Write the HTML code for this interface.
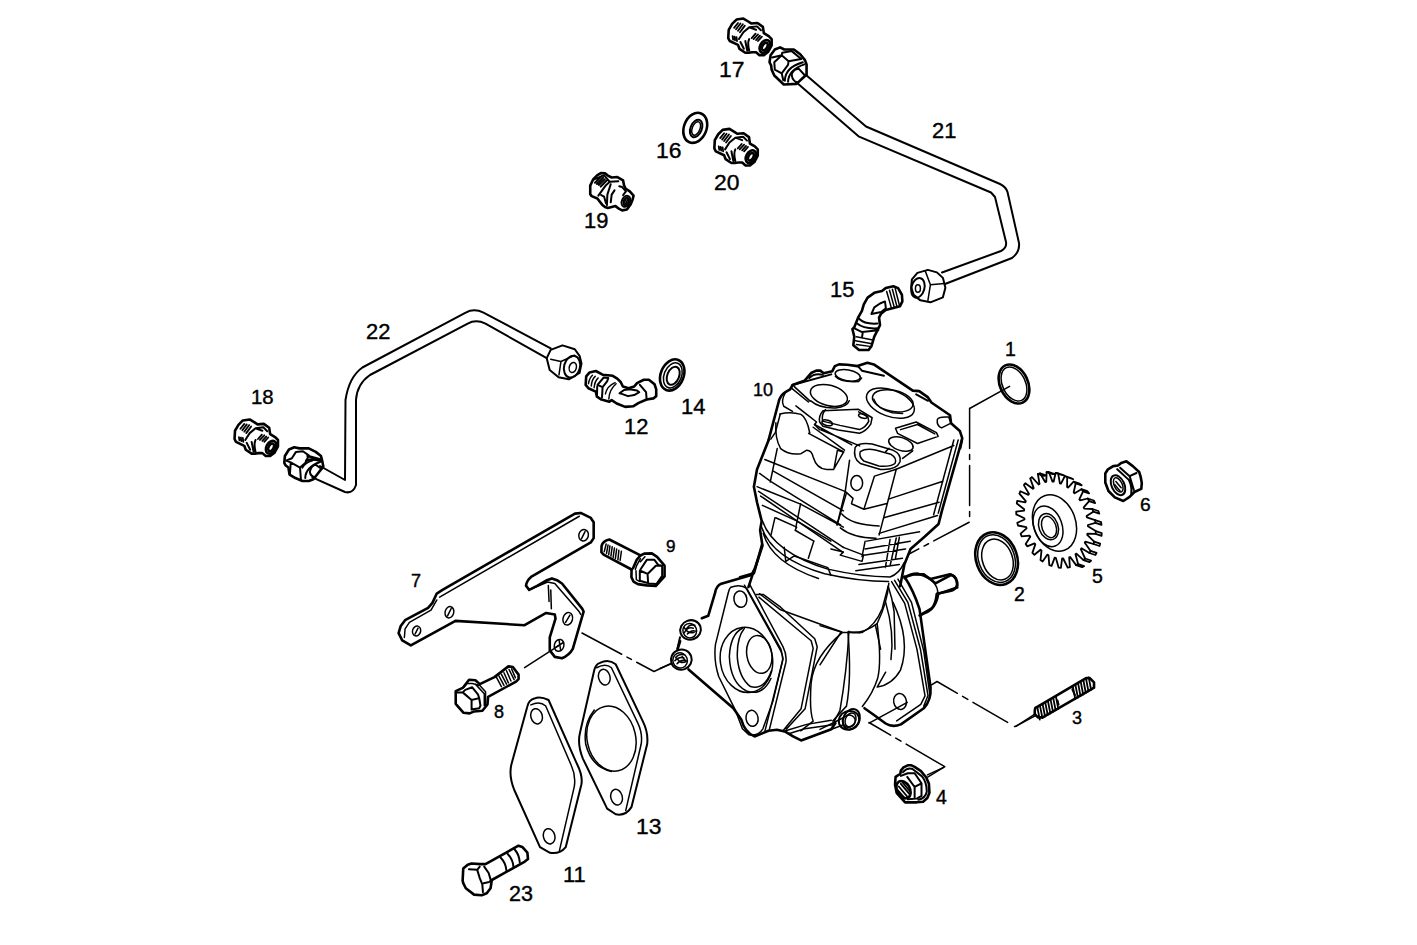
<!DOCTYPE html>
<html><head><meta charset="utf-8"><style>
html,body{margin:0;padding:0;background:#fff;width:1417px;height:945px;overflow:hidden}
svg{position:absolute;left:0;top:0}
svg *{vector-effect:non-scaling-stroke}
path,ellipse,line,polyline,polygon,circle,rect{fill:none;stroke:#000;stroke-width:2;stroke-linejoin:round;stroke-linecap:round}
.t{stroke-width:1.5}
.k{stroke-width:2.6}
.w{fill:#fff}
.g{stroke-width:1.8}
.d{stroke-width:1.3;stroke-dasharray:40 8 6 8}
text{font-family:"Liberation Sans",sans-serif;fill:#000;stroke:#000;stroke-width:0.4px}
</style></head><body>
<svg width="1417" height="945" viewBox="0 0 1417 945">
<g id="labels">
<text x="719.0" y="77.0" font-size="22.9">17</text>
<text x="932.0" y="138.0" font-size="21.9">21</text>
<text x="656" y="157.5" font-size="22.9">16</text>
<text x="714.0" y="190.0" font-size="22.9">20</text>
<text x="584.0" y="228.0" font-size="21.9">19</text>
<text x="830.0" y="297.0" font-size="21.9">15</text>
<text x="366.0" y="339.0" font-size="21.9">22</text>
<text x="251.0" y="404.0" font-size="20.4">18</text>
<text x="624.0" y="434.0" font-size="21.9">12</text>
<text x="681.0" y="414.0" font-size="21.9">14</text>
<text x="753.0" y="396.0" font-size="18.0">10</text>
<text x="1005.0" y="356.0" font-size="19.5">1</text>
<text x="666.0" y="552.0" font-size="17.1">9</text>
<text x="411.0" y="587.0" font-size="18.0">7</text>
<text x="494.0" y="718.0" font-size="18.0">8</text>
<text x="1014.0" y="601.0" font-size="19.4">2</text>
<text x="1092" y="583" font-size="19.5">5</text>
<text x="1140.0" y="511.4" font-size="19.2">6</text>
<text x="1072.0" y="724.0" font-size="18.0">3</text>
<text x="936.0" y="804.0" font-size="19.5">4</text>
<text x="636.0" y="834.0" font-size="22.9">13</text>
<text x="563.0" y="882.0" font-size="21.9">11</text>
<text x="509.0" y="901.0" font-size="21.5">23</text>
</g>
<g id="pipe21">
<path d="M806,75 L866,126.5 L1000,184 Q1006,187 1007.5,192 L1019,243 Q1020,252 1012,258 L945,284"/>
<path d="M796,82 L858.5,136.3 L991,192.5 L995,197 L1006,242 Q1007,248 1001,251 L942,272.5"/>
</g>
<g id="pipe22">
<path d="M550.7,348.3 L483.5,312.7 Q474,308 465.7,312.7 L362.4,367.5 Q349,377 345.5,400 L345,480 L320,466"/>
<path d="M546.7,358.2 L485.5,323.6 Q476,319 467.7,323.6 L370,375 Q357,384 356,400 L356,485 Q353,494 345,492 L312.4,477.4"/>
</g>
<g id="rings">
<ellipse cx="1014" cy="384" rx="14" ry="20.5" transform="rotate(-25 1014 384)" class="k"/>
<ellipse cx="1014" cy="384" rx="11.5" ry="18" transform="rotate(-25 1014 384)" class="t"/>
<ellipse cx="996.6" cy="558.6" rx="20.5" ry="27" transform="rotate(-20 996.6 558.6)" class="k"/>
<ellipse cx="996.6" cy="558.6" rx="18" ry="24.5" transform="rotate(-20 996.6 558.6)" class="t"/>
<ellipse cx="997.5" cy="559.5" rx="15" ry="21" transform="rotate(-20 997.5 559.5)" class="t"/>
</g>
<g transform="translate(700,0) scale(0.141143)">

</g>
<g transform="translate(760,40) scale(0.05291)">
<path class="k" d="M180,420 L200,290 L280,180 L380,140 L460,180 L640,180 L760,270 L850,380 L880,460 L880,660 L850,680 L690,830 L450,840 L270,670 L220,560 L210,480 Z"/>
<path d="M230,330 L410,290 L540,400 L780,360 M410,290 L420,240 L600,210 L780,360 M270,420 L410,290 M540,400 L530,470 L410,630 L280,560 L270,420 M410,630 L440,760"/>
<path d="M470,770 Q470,520 810,420 M530,790 Q540,560 840,460"/>
<path d="M600,640 Q650,530 740,550 L850,670 M600,640 Q600,740 660,780 L700,800"/>
</g>
<g transform="translate(580,100) scale(0.148148)">
<!-- washer 16 -->
<ellipse cx="778" cy="188" rx="76" ry="105" transform="rotate(22 778 188)" class="k"/>
<ellipse cx="784" cy="192" rx="38" ry="62" transform="rotate(22 784 192)"/>
<ellipse cx="784" cy="192" rx="26" ry="48" transform="rotate(22 784 192)" class="t"/>
</g>
<g transform="translate(585,168) scale(0.047619)">
<path class="k" d="M110,550 L110,370 L170,240 L260,150 L340,105 L420,110 L480,160 L560,200 L680,190 L800,260 L820,360 L850,430 L940,490 L1020,580 L1000,660 L960,760 L880,870 L780,890 L720,860 L640,800 L480,840 L420,820 L360,770 L260,640 L140,590 Z"/>
<path d="M210,310 L350,170 M250,335 L380,205 M290,355 L415,235 M330,390 L455,262 M170,250 L400,150 L520,290"/>
<path d="M280,580 L440,360 L520,290 L700,280 M540,340 L470,560 L460,780 M340,570 L400,600 L440,740"/>
<path d="M620,470 L560,560 L540,720 M720,385 L780,400 L860,490 L800,570"/>
<ellipse cx="860" cy="700" rx="85" ry="120" transform="rotate(25 860 700)"/>
<ellipse cx="862" cy="702" rx="50" ry="80" transform="rotate(25 862 702)"/>
<path class="t" d="M820,740 L880,620 M850,760 L900,660"/>
</g><g transform="translate(230,300) scale(0.249813)">
</g>
<g transform="translate(440,290) scale(0.197628)">
<!-- nut on pipe22 right -->
<path d="M540,345 L560,303 L620,280 L682,300 L707,335 L716,372 L706,420 L652,452 L600,442 L555,405 Z"/>
<path class="t" d="M560,350 L612,362 L682,330 M612,362 L602,430"/>
<ellipse cx="668" cy="388" rx="40" ry="56" transform="rotate(15 668 388)"/>
<ellipse cx="672" cy="392" rx="18" ry="26" transform="rotate(15 672 392)" class="t"/>
<!-- washer 14 -->
<ellipse cx="1175" cy="430" rx="58" ry="82" transform="rotate(22 1175 430)" class="k"/>
<ellipse cx="1178" cy="432" rx="44" ry="66" transform="rotate(22 1178 432)" class="t"/>
<ellipse cx="1180" cy="434" rx="30" ry="48" transform="rotate(22 1180 434)"/>
</g>
<g transform="translate(800,100) scale(0.249813)">
<!-- nut on pipe21 bottom -->
<path d="M448,718 L470,692 L512,680 L548,690 L572,712 L582,752 L572,790 L522,810 L482,802 L455,780 L445,750 Z"/>
<path class="t" d="M502,686 L522,740 L512,802 M522,740 L578,735"/>
<ellipse cx="472" cy="752" rx="26" ry="40" transform="rotate(15 472 752)"/>
<ellipse cx="472" cy="755" rx="10" ry="15" class="t"/>
</g>
<g transform="translate(840,270) scale(0.095238)">
<path class="k" d="M150,600 L190,500 L230,430 L250,360 L290,290 L360,240 L440,220 L480,190 L560,170 L610,190 L650,260 L655,330 L630,380 L560,400 L480,420 L430,460 L410,500 L420,580 L390,640 L360,700 L330,800 L300,840 L200,840 L140,790 L150,700 L130,620 Z"/>
<path class="t" d="M490,225 L540,400 M520,212 L570,392 M550,202 L598,384 M580,195 L625,375"/>
<path d="M330,462 L360,392 L420,352 L472,330 L482,402 L432,442 Z"/>
<path d="M200,512 Q260,572 392,562 M180,562 Q250,622 402,612 M152,612 L232,652 L402,632 M240,652 L232,700"/>
<path class="t" d="M172,702 L332,732 M162,742 L322,772 M172,782 L312,802"/>
</g>
<g transform="translate(580,360) scale(0.056465)">
<path class="k" d="M100,440 L110,290 L170,220 L280,195 L400,260 L580,280 L660,330 L720,390 L760,470 L860,500 L960,470 L1010,410 L1130,350 L1220,350 L1320,430 L1350,520 L1350,640 L1300,680 L1180,700 L1040,760 L940,820 L800,830 L650,770 L560,710 L520,740 L380,700 L300,650 L280,560 L150,500 Z"/>
<path class="t" d="M150,420 Q165,320 220,270 M200,460 Q210,340 270,290 M250,490 Q262,370 320,320"/>
<path d="M310,440 L420,310 L500,320 L480,380 L400,480 Z M305,470 L300,640 M400,480 L390,660"/>
<path class="t" d="M450,600 Q480,460 620,400 M510,690 Q520,520 640,420"/>
<path d="M700,590 L780,530 L880,520 L1010,540 L1050,570 L960,620 L850,640 L740,600 Z"/>
<path d="M1060,440 L1170,570 L1180,700"/>
</g><g transform="translate(275,435) scale(0.058207)">
<path class="k" d="M160,480 L170,360 L240,250 L330,210 L420,230 L580,230 L700,290 L790,360 L810,440 L830,540 L800,580 L660,760 L580,790 L470,790 L350,740 L250,680 L230,560 L180,520 Z"/>
<path d="M190,440 L290,400 L360,290 L480,280 L580,350 L520,480 L430,560 L270,470 Z M270,480 L255,680 M430,560 L445,760"/>
<path class="k" d="M560,360 L780,420 M540,440 Q600,400 790,440"/>
<path d="M470,560 Q520,470 640,440 M520,740 Q520,560 780,460"/>
<path d="M600,630 Q620,520 700,510 L800,585 M600,640 Q610,705 690,730"/>
</g><g transform="translate(708,124) scale(0.048780)"><g id="fit20">
<path class="k" d="M130,500 L140,330 L210,210 L300,120 L440,100 L540,160 L600,200 L730,190 L840,270 L860,400 L960,460 L1020,520 L1020,650 L950,780 L860,850 L770,850 L700,790 L620,790 L550,800 L480,800 L360,720 L330,640 L160,560 Z"/>
<path class="g" d="M250,290 L330,190 M290,320 L380,200 M330,350 L430,215 M370,380 L470,245 M220,460 L230,530 M260,470 L270,545 M300,480 L310,560"/>
<path d="M350,520 L440,380 L560,280 L720,260 L800,340 M380,580 L450,720 M480,560 L520,760 M560,280 L700,330 M560,520 Q520,600 560,760"/>
<path class="g" d="M610,500 L690,410 M650,520 L740,425 M700,540 L780,450 M740,560 L820,470"/>
<ellipse cx="880" cy="670" rx="95" ry="140" transform="rotate(30 880 670)" class="k"/>
<ellipse cx="880" cy="672" rx="50" ry="85" transform="rotate(30 880 672)" class="k"/>
</g><use href="#fit20" transform="translate(284.9,-2261.2)"/><use href="#fit20" transform="translate(-9835.9,5957.3)"/></g><g transform="translate(740,350) scale(0.169377)">
<path class="k" d="M169,531 L232,292 Q245,262 268,248 L296,232 L310,207 L380,182 L420,136 L450,122 L474,122 L494,137 L545,125 L560,95 L585,85 L634,87 L694,95 L752,75 L790,85 L1020,240 L1058,243 L1108,278 L1130,310 L1240,385 L1246,432 L1298,478 L1312,520 L1300,580"/>
<path d="M309,207 L539,144 M409,165 Q440,135 489,147 M700,100 L720,122 L850,152 M1040,262 L1110,300"/>
<ellipse cx="636" cy="150" rx="75" ry="32" transform="rotate(10 636 150)" class="t"/>
<path class="t" d="M563,155 Q590,192 700,186 L718,165"/>
<ellipse cx="525" cy="268" rx="112" ry="60" transform="rotate(15 525 268)" class="t"/>
<path class="t" d="M418,300 Q470,345 565,342 Q632,336 645,300"/>
<ellipse cx="902" cy="300" rx="122" ry="62" transform="rotate(12 902 300)" class="t"/>
<ellipse cx="888" cy="314" rx="148" ry="78" transform="rotate(20 888 314)" class="t"/><path class="t" d="M790,290 Q810,350 900,370 L960,375"/>
<path class="t" d="M490,358 L700,350 L780,400 L772,438 Q745,480 705,492 L580,472 L490,450 L470,425 Q462,390 490,358 Z"/>
<path class="t" d="M505,352 Q480,380 488,420 L590,445 L705,470 Q745,455 760,420 L755,395 L700,365"/>
<ellipse cx="515" cy="430" rx="32" ry="16" transform="rotate(15 515 430)" class="t"/>
<ellipse cx="725" cy="390" rx="26" ry="12" transform="rotate(15 725 390)" class="t"/>
<path class="t" d="M304,225 L404,307 M319,215 L414,302 M268,252 Q240,300 258,332 L310,362 M330,330 L400,385 L452,425 M452,425 L440,440 L470,470"/>
<path class="t" d="M235,378 Q300,362 360,380 Q395,400 412,490 M212,430 Q205,520 240,582 Q290,622 360,612 L392,592 Q422,590 432,632 Q452,702 512,706 L552,706 L612,602 L575,592 L555,700"/>

<path class="t" d="M405,492 L612,602 M440,440 L660,560 M237,381 L209,486 L182,526 M432,456 L617,591 M477,471 L707,566"/>
<path class="t" d="M680,575 Q700,545 780,555 L900,590 Q955,615 945,660 Q925,710 830,705 L710,670 Q665,640 680,575 Z"/>
<path class="t" d="M710,600 Q740,580 800,590 L890,615 Q930,640 915,670 Q890,690 820,685 L730,655 Q700,630 710,600 Z"/>


<ellipse cx="950" cy="555" rx="75" ry="38" transform="rotate(18 950 555)" class="t"/>
<path class="t" d="M1020,595 L960,640 M880,580 L860,600"/>
<path class="t" d="M918,462 L1040,425 L1160,488 L1170,510 L1048,552 L930,492 Z M948,470 L1048,440 L1150,495"/>
<path class="t" d="M1165,410 Q1172,392 1232,396 L1246,432 L1190,460 Q1160,450 1165,410"/>



</g>
<g transform="translate(750,440) scale(0.155594)">
<path class="k" d="M120,0 L45,190 L25,300 L45,400 L75,520 L65,580 L80,680 L40,800 L15,870 L-10,945"/>
<path class="k" d="M1362,0 L1232,460 L1212,540 L1122,622 L1032,700 L992,800 L965,940"/>
<path class="t" d="M175,55 L130,270 M95,125 L610,330 M150,200 L600,455 M62,215 L135,268 L582,545 M45,300 L325,412 L600,560"/>
<path class="t" d="M55,330 L600,690 M68,360 L598,722"/>
<path class="t" d="M80,420 L300,520 L520,650 M325,410 L295,560 M410,650 L375,760 M160,500 L135,610 M620,340 L560,545"/>
<path class="t" d="M80,520 Q150,720 500,830 Q720,880 900,880 Q960,860 990,790 M75,560 Q140,760 480,860 Q700,910 890,910 M85,600 Q140,790 440,890"/>
<path class="t" d="M165,500 L300,560 L290,580 L410,650 M220,690 L230,780 L285,745 L500,820 L520,870 M520,700 L600,720 L580,740 L720,780 L730,740 L600,690"/>
<path class="t" d="M640,130 L612,330 L662,375 L652,410 L732,445 L800,232 L940,188 M940,188 L830,610 M732,445 L880,408 M612,330 L560,545"/>
<ellipse cx="686" cy="276" rx="38" ry="48" class="t"/>
<path class="t" d="M940,188 L1310,35 M890,380 L1240,265 M860,500 L1215,400 M830,600 L1205,485 M1310,0 L1180,480 M1338,0 L1210,470"/>
<path class="t" d="M590,475 Q650,545 830,552 M580,565 Q660,630 810,632"/>
<path class="t" d="M750,650 L1090,590 M740,700 L1030,650 M730,740 L1000,700 M700,800 L980,760 M680,840 L960,800 M740,650 L720,750 M900,640 L870,820 M940,630 L900,810 M960,625 L935,760"/>

</g>
<g transform="translate(740,490) scale(0.169377)">
<path class="k" d="M130,322 L82,492 L0,515"/>
<path class="k" d="M972,520 Q1000,495 1050,494 L1085,505 L1125,525 L1240,497 Q1282,510 1282,560 Q1272,592 1240,596 L1162,612 Q1155,680 1130,700 L1068,736"/>
<path class="t" d="M640,840 L720,842 Q800,800 840,700 L875,568"/>
<path class="t" d="M875,568 Q900,640 910,720 L915,940 M800,800 L830,940"/>
</g>
<g transform="translate(660,570) scale(0.201005)">
<path class="k" d="M468,0 L455,25 L305,68 Q280,80 275,110 L240,228 L208,240"/>
<path class="k" d="M100,355 L88,392"/>
<path class="k" d="M142,495 L365,688 L405,745 Q420,805 470,828 L540,800 L582,795 L625,805 L662,828 L702,848 L852,792 L872,762"/>
<path class="t" d="M352,86 Q400,68 432,92 L602,395 L612,442 L562,652 L512,790 Q490,826 442,820 L410,790 L376,700 L292,530 Q266,450 276,370 L340,112 Q345,92 352,86 Z"/>
<path class="t" d="M480,122 L515,122 L600,185 L770,342 L782,382 L722,690 L628,792 M492,135 L752,352 L762,390 L702,690 L612,800"/>
<ellipse cx="430" cy="447" rx="130" ry="163" transform="rotate(-8 430 447)" class="t"/>
<path class="t" d="M410,290 Q350,320 345,430 Q350,560 430,602 Q510,630 552,540"/>
<path class="t" d="M420,290 Q380,340 385,440 Q395,540 450,580 Q520,600 555,500"/>
<ellipse cx="494" cy="420" rx="62" ry="95" transform="rotate(-10 494 420)" class="t"/>
<ellipse cx="400" cy="145" rx="32" ry="41" transform="rotate(-10 400 145)" class="t"/>
<ellipse cx="458" cy="738" rx="30" ry="40" transform="rotate(-10 458 738)" class="t"/>
<ellipse cx="152" cy="298" rx="52" ry="48" transform="rotate(-20 152 298)"/>
<ellipse cx="148" cy="302" rx="34" ry="36" transform="rotate(-20 148 302)" class="t"/>
<ellipse cx="106" cy="446" rx="52" ry="50" transform="rotate(-20 106 446)"/>
<ellipse cx="100" cy="450" rx="36" ry="38" transform="rotate(-20 100 450)" class="t"/>
<path class="t" d="M120,285 Q140,320 170,310 M85,440 Q100,470 130,455 L110,430"/>
<path class="t" d="M0,490 L58,466"/>
<path class="t" d="M495,118 L600,198 L908,310 L995,312 M908,310 Q765,430 752,560 Q742,700 762,752 L700,800 M940,305 Q930,500 895,700 L862,762"/>
<path class="t" d="M625,800 L730,768 L852,748 M640,815 L720,790 L860,770"/>
<ellipse cx="940" cy="748" rx="52" ry="46" transform="rotate(-20 940 748)"/>
<ellipse cx="940" cy="752" rx="32" ry="30" transform="rotate(-20 940 752)" class="t"/>
</g>
<g transform="translate(640,560) scale(0.148148)">
<path class="t" d="M705,170 L938,592 Q968,640 962,680 L842,1160 M742,168 L965,585 Q992,640 985,690 L872,1150"/>
<path d="M270,522 L252,602"/>
<path class="t" d="M310,470 Q330,430 370,440 M300,490 Q320,450 360,460 M320,500 Q345,470 375,480 M240,660 Q260,630 300,640 M235,680 Q260,650 295,660 M250,700 Q275,670 310,680"/>
</g><g transform="translate(820,560) scale(0.211775)">
<path class="k" d="M398,78 Q440,140 470,232 L522,600 Q526,662 490,700 L382,776 Q342,792 310,772 L255,732 L210,700"/>
<path class="t" d="M338,102 L400,205 L458,422 L496,642 L476,682 L362,760 M352,96 L415,200 L474,420 L510,640 L490,690 M368,90 L432,200 L490,430 L518,630"/>
<path class="k" d="M400,80 L440,68 L490,68 L530,98 L545,110 L620,70 Q652,80 648,130 L558,160 Q548,232 492,252 L470,262"/>
<path class="t" d="M530,98 Q560,130 555,160"/>
<path class="t" d="M0,310 L100,340 L0,495 M132,340 Q200,352 270,300 Q318,200 325,110 M132,340 Q150,560 125,690 L60,760"/>
<path class="t" d="M270,300 Q292,480 272,560 Q250,630 200,692 M310,200 Q352,340 335,470 M345,200 Q430,380 380,520 Q340,590 270,600 L310,530"/>
<ellipse cx="378" cy="668" rx="30" ry="38" transform="rotate(-10 378 668)" class="t"/>
<path class="t" d="M232,770 L412,672"/>
<ellipse cx="148" cy="752" rx="38" ry="50" transform="rotate(25 148 752)"/>
<ellipse cx="144" cy="755" rx="24" ry="34" transform="rotate(25 144 755)" class="t"/>
<path class="t" d="M0,800 L110,745 M0,820 L105,780"/>
</g>
<g transform="translate(395,505) scale(0.143968)">
<path class="k" d="M290,615 L330,590 L1250,60 L1290,55 L1360,90 L1380,120 L1380,230 L1360,260 L1300,295 L945,500 Q915,525 910,560 L932,590 L990,560 L1050,525 L1090,510 L1130,525 L1160,545 L1300,720 L1310,740 L1235,1000 Q1210,1045 1160,1065 L1110,1055 L1075,1010 L1075,920 L1115,790 L1110,760 L1050,750 L900,835 L420,805 L110,975 L50,940 L25,890 L40,840 L70,800 L230,715 L260,680 Z"/>
<path class="t" d="M310,640 L1280,78 M65,920 L70,860 L100,815 L250,730 L290,660 M940,585 L1060,535 L1110,545 L1280,742 L1290,760"/>
<ellipse cx="378" cy="745" rx="30" ry="40" transform="rotate(15 378 745)" class="t"/>
<ellipse cx="150" cy="875" rx="28" ry="35" transform="rotate(15 150 875)" class="t"/>
<ellipse cx="1310" cy="210" rx="33" ry="40" transform="rotate(15 1310 210)" class="t"/>
<ellipse cx="1200" cy="790" rx="33" ry="44" transform="rotate(15 1200 790)" class="t"/>
<ellipse cx="1140" cy="975" rx="33" ry="42" transform="rotate(15 1140 975)" class="t"/>
<path class="t" d="M365,770 L390,720 M140,895 L160,855 M1295,235 L1320,185 M1185,815 L1215,765 M1120,985 L1170,955 M1140,940 L1150,1005"/>
<path class="t" d="M1065,560 L1070,670 M1082,590 L1086,720"/>
<path class="t" d="M1140,975 L900,1130"/>
</g>
<g transform="translate(596,530) scale(0.063492)">
<!-- bolt 9 -->
<path class="k" d="M700,400 L210,150 Q110,170 88,250 L85,350 L120,388 L560,622"/>
<path class="t" d="M160,220 L130,340 M190,235 L165,370 M220,250 L200,390 M255,265 L235,410 M290,285 L270,430 M325,300 L305,450 M360,320 L345,470 M400,335 L380,480"/>
<path class="k" d="M560,622 L558,742 L590,812 L660,852 L800,872 L940,882 L1080,732 L1080,562 L962,422 L880,368 L760,372 L700,402 L640,472 L585,600"/>
<path class="t" d="M630,642 L635,782 L690,812 M700,452 L640,560 L620,620 M770,420 L700,500"/>
<path d="M700,622 L800,470 L920,470 L980,550 L1042,562 L1042,722 L952,852 L822,842 L812,692 L700,642 Z M812,692 L942,562 L1042,562 M690,640 L690,800 L800,830"/>
</g>
<g transform="translate(440,650) scale(0.285714)">
<!-- gasket 11 -->
<path d="M330,170 Q350,160 380,175 L480,400 Q500,440 495,470 L440,690 Q420,715 385,710 L350,690 L260,490 Q240,440 250,400 L305,200 Q310,175 330,170 Z"/>
<path class="t" d="M318,192 Q350,178 370,196 L460,405 Q476,440 470,478 L418,702"/>
<ellipse cx="338" cy="232" rx="20" ry="27" transform="rotate(-15 338 232)" class="t"/>
<ellipse cx="382" cy="652" rx="20" ry="27" transform="rotate(-15 382 652)" class="t"/>
<!-- gasket 13 -->
<path d="M560,45 Q590,30 615,50 L710,250 Q730,290 725,330 L670,550 Q650,582 615,575 L585,555 L500,380 Q480,330 490,290 L540,70 Q545,50 560,45 Z"/>
<path class="t" d="M548,62 Q580,45 600,62 L692,255 Q710,292 704,330 L650,562"/>
<ellipse cx="575" cy="95" rx="20" ry="28" transform="rotate(-15 575 95)" class="t"/>
<ellipse cx="618" cy="515" rx="20" ry="28" transform="rotate(-15 618 515)" class="t"/>
<ellipse cx="600" cy="310" rx="85" ry="115" transform="rotate(-12 600 310)" class="t"/>
<path class="t" d="M540,210 Q500,260 510,330 Q530,410 600,425"/>
</g>
<g transform="translate(880,640) scale(0.249813)">
<path class="t" d="M545,345 L620,297"/>
<path class="t" d="M190,540 L255,510"/>
</g>
<g transform="translate(1100,455) scale(0.05291)">
<path class="k" d="M100,520 L100,350 L150,270 L250,210 L340,200 L400,150 L500,120 L620,210 L740,320 L770,420 L790,530 L780,640 L650,700 L560,790 L440,870 L280,800 L160,680 Z"/>
<path d="M380,240 L560,400 L690,340 M560,400 L640,660 M325,268 L545,470 Q610,600 590,740"/>
<ellipse cx="340" cy="570" rx="120" ry="200" transform="rotate(-25 340 570)"/>
<ellipse cx="345" cy="565" rx="75" ry="145" transform="rotate(-25 345 565)" class="t"/>
<path class="t" d="M300,500 L400,620 M280,560 L380,680"/>
</g>
<g id="leaders">
<path class="t" d="M1009.6,386.3 L969.6,408.5"/>
<path class="t" d="M969.6,408.5 L969.6,522 L909,554" stroke-dasharray="40 6 5 6"/>
<path class="t" d="M582,633 L654,671.5 L672,663" stroke-dasharray="45 6 5 6"/>
<path class="t" d="M931.5,684.8 L937,681.5 L1015,726.7 L1036,715.3" stroke-dasharray="30 6 6 6 40 8 100"/>
<path class="t" d="M869,722.5 L944.8,766.7 L927.7,777.2" stroke-dasharray="25 6 6 6 100"/>
</g>
<g transform="translate(450,660) scale(0.063492)">
<path class="k" d="M90,490 L200,440 L300,310 L400,320 L470,380 L700,270 L920,100 L990,110 L1080,230 L1080,300 L1040,340 L600,580 L590,700 L510,800 L380,810 L310,840 L210,830 L90,690 Z"/>
<path d="M100,510 L200,510 L340,630 L460,600 L480,720 L460,760 L340,780 M340,630 L340,780 M200,510 L240,470 L350,430 L440,540 L460,600"/>
<path class="t" d="M220,430 L270,370 L350,370 L470,400 L560,500 L560,720 M400,380 L540,530 L540,720"/>
<path class="t" d="M730,270 L810,420 M770,250 L850,400 M810,225 L890,380 M850,200 L920,360 M890,170 L960,330 M930,150 L1010,310 M970,140 L1030,280"/>
</g><g transform="translate(1030,675) scale(0.05291)">
<path class="k" d="M90,680 L100,620 L160,590 L210,560 L1060,60 L1130,60 L1210,140 L1210,240 L1140,280 L240,800 L150,800 L90,740 Z"/>
<path class="g" d="M140,616 L185,843 M190,587 L235,814 M240,557 L285,785 M290,528 L335,756 M340,499 L385,727 M390,469 L435,698 M440,440 L485,669 M490,410 L535,641 M810,222 L855,456 M860,193 L905,427 M910,163 L955,398 M960,134 L1005,369 M1010,104 L1055,340 M1060,75 L1105,311 M1110,46 L1155,282 "/>
<path d="M520,480 L540,560 M800,270 L850,380"/>
</g><g transform="translate(885,760) scale(0.05291)">
<path class="k" d="M190,470 L200,320 L290,260 L300,200 L350,140 L430,100 L500,100 L560,130 L680,210 L780,330 L830,450 L840,620 L800,720 L720,790 L600,800 L380,800 L220,620 Z"/>
<path d="M340,230 Q420,140 520,170 L700,310 Q790,420 790,600 Q760,730 630,750"/>
<path d="M300,300 L430,250 L560,250 L690,440 L690,680 L600,730 L430,740 M560,510 L690,440 M560,510 L420,320 M560,510 L560,730"/>
<ellipse cx="350" cy="560" rx="120" ry="175" transform="rotate(-30 350 560)" class="k"/>
<path class="g" d="M260,500 L420,690 M300,450 L460,640 M240,570 L380,730 M330,420 L470,590"/>
</g><g transform="translate(455,840) scale(0.063492)">
<path class="k" d="M120,640 L130,450 L200,390 L260,370 L400,380 L480,380 L1000,90 L1060,110 L1140,200 L1150,300 L1100,340 L580,630 L560,760 L500,840 L420,870 L300,860 L170,760 L130,680 Z"/>
<path d="M220,460 L350,470 L390,420 M350,470 L390,600 L430,700 L440,820 M450,680 L540,660 L570,630 M460,420 L530,520 L560,620"/>
<path d="M720,280 Q800,360 810,480 M830,220 Q910,300 920,420 M940,150 Q1010,230 1020,350"/>
</g>
<path d="M1084.3,508.6 L1092.4,509.0 L1093.3,511.7 L1086.6,516.0 L1086.9,517.4 L1095.1,520.1 L1095.5,522.8 L1087.9,525.0 L1087.9,526.3 L1095.7,531.1 L1095.6,533.8 L1087.4,533.6 L1087.2,534.9 L1094.2,541.6 L1093.5,544.0 L1085.3,541.6 L1084.8,542.7 L1090.6,550.9 L1089.4,553.0 L1081.5,548.3 L1080.8,549.2 L1085.1,558.5 L1083.5,560.1 L1076.4,553.6 L1075.5,554.2 L1078.1,564.1 L1076.1,565.1 L1070.2,557.0 L1069.2,557.4 L1069.9,567.2 L1067.7,567.6 L1063.2,558.5 L1062.1,558.5 L1060.9,567.9 L1058.6,567.6 L1055.8,557.8 L1054.7,557.6 L1051.6,565.9 L1049.3,565.1 L1048.5,555.2 L1047.4,554.6 L1042.6,561.5 L1040.5,560.0 L1041.5,550.6 L1040.5,549.7 L1034.4,554.8 L1032.4,552.9 L1035.3,544.4 L1034.5,543.3 L1027.2,546.3 L1025.7,543.9 L1030.3,536.8 L1029.6,535.6 L1021.7,536.4 L1020.6,533.7 L1026.6,528.4 L1026.2,527.1 L1018.0,525.5 L1017.3,522.7 L1024.5,519.5 L1024.3,518.2 L1016.3,514.4 L1016.2,511.6 L1024.1,510.6 L1024.2,509.3 L1016.8,503.5 L1017.2,500.9 L1025.4,502.3 L1025.8,501.1 L1019.4,493.6 L1020.3,491.3 L1028.4,494.9 L1029.0,493.9 L1023.9,485.1 L1025.3,483.2 L1032.9,488.8 L1033.7,488.1 L1030.2,478.4 L1032.0,477.1 L1038.6,484.5 L1039.5,484.0 L1037.9,474.0 L1040.0,473.3 L1045.2,482.0 L1046.3,481.8 L1046.6,472.1 L1048.8,472.0 L1052.5,481.6 L1053.6,481.7 L1055.7,472.8 L1058.1,473.3 L1059.9,483.3 L1061.0,483.7 L1064.9,476.0 L1067.2,477.2 L1067.1,486.9 L1068.1,487.6 L1073.6,481.6 L1075.7,483.3 L1073.7,492.3 L1074.6,493.3 L1081.4,489.2 L1083.1,491.4 L1079.3,499.3 L1080.1,500.4 L1087.8,498.5 L1089.1,501.1 L1083.7,507.3Z" class="g"/><path d="M1092.4,509.0 L1098.4,511.0 L1099.3,513.7 L1093.3,511.7" class="g"/><path d="M1095.1,520.1 L1101.1,522.1 L1101.5,524.8 L1095.5,522.8" class="g"/><path d="M1095.7,531.1 L1101.7,533.1 L1101.6,535.8 L1095.6,533.8" class="g"/><path d="M1094.2,541.6 L1100.2,543.6 L1099.5,546.0 L1093.5,544.0" class="g"/><path d="M1090.6,550.9 L1096.6,552.9 L1095.4,555.0 L1089.4,553.0" class="g"/><path d="M1085.1,558.5 L1091.1,560.5 L1089.5,562.1 L1083.5,560.1" class="g"/><path d="M1078.1,564.1 L1084.1,566.1 L1082.1,567.1 L1076.1,565.1" class="g"/><path d="M1037.9,474.0 L1043.9,476.0 L1046.0,475.3 L1040.0,473.3" class="g"/><path d="M1046.6,472.1 L1052.6,474.1 L1054.8,474.0 L1048.8,472.0" class="g"/><path d="M1055.7,472.8 L1061.7,474.8 L1064.1,475.3 L1058.1,473.3" class="g"/><path d="M1064.9,476.0 L1070.9,478.0 L1073.2,479.2 L1067.2,477.2" class="g"/><path d="M1073.6,481.6 L1079.6,483.6 L1081.7,485.3 L1075.7,483.3" class="g"/><path d="M1081.4,489.2 L1087.4,491.2 L1089.1,493.4 L1083.1,491.4" class="g"/><path d="M1087.8,498.5 L1093.8,500.5 L1095.1,503.1 L1089.1,501.1" class="g"/><ellipse cx="1054.5" cy="523" rx="21" ry="29" transform="rotate(-20 1054.5 523)" class="t"/><ellipse cx="1048" cy="526.3" rx="14" ry="21" transform="rotate(-20 1048 526.3)" class="t"/><ellipse cx="1048.5" cy="526.7" rx="9.5" ry="13.5" transform="rotate(-20 1048.5 526.7)" class="t"/><ellipse cx="1049" cy="527" rx="7" ry="11" transform="rotate(-20 1049 527)" class="t"/>
</svg></body></html>
